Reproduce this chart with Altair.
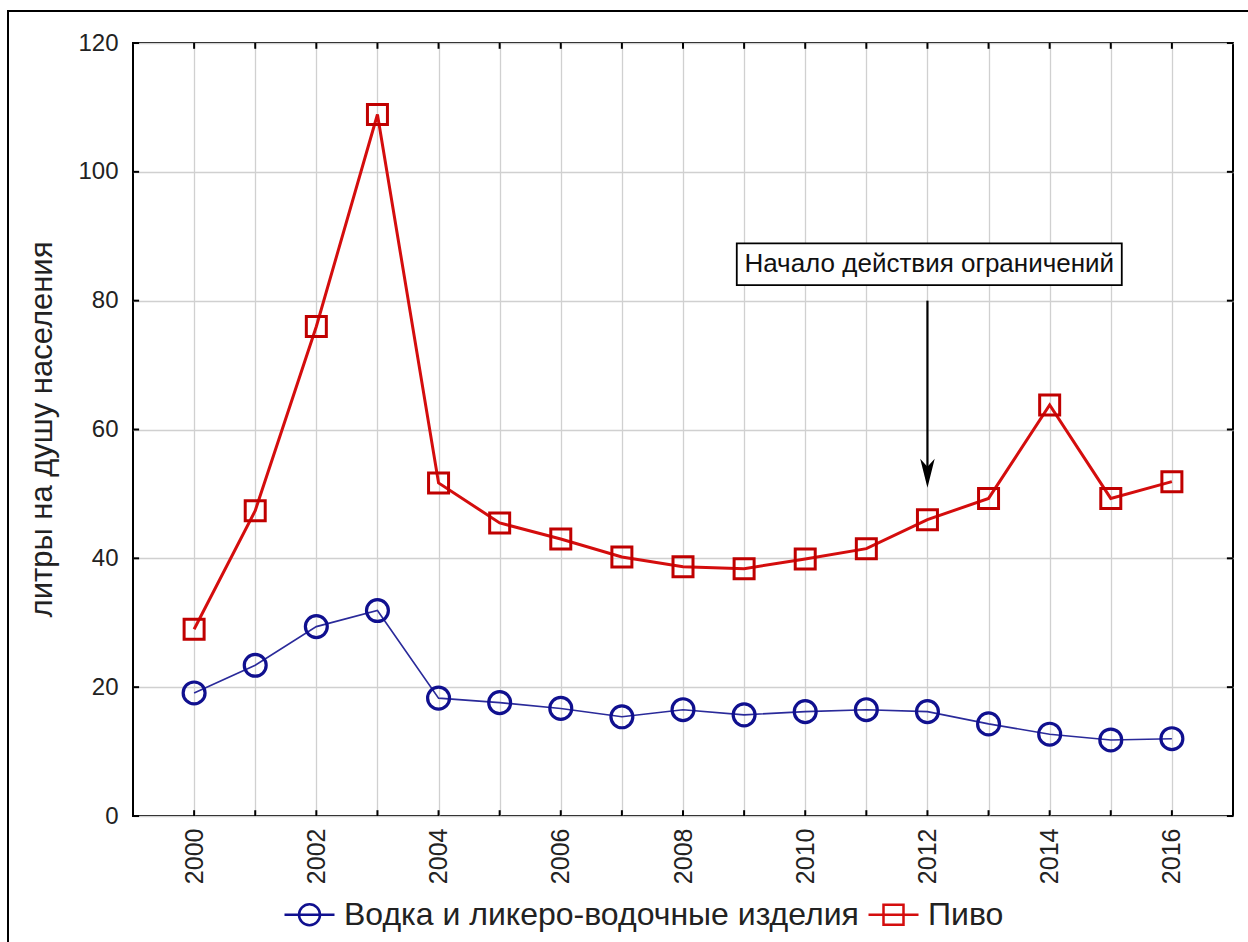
import altair as alt
import pandas as pd

# ---- data ----
years = list(range(2000, 2017))
vodka = [19.1, 23.4, 29.4, 31.9, 18.3, 17.6, 16.7, 15.4, 16.5, 15.7, 16.2, 16.5, 16.2, 14.3, 12.7, 11.8, 12.0]
beer = [29.0, 47.4, 76.0, 108.9, 51.7, 45.5, 43.0, 40.2, 38.7, 38.4, 39.9, 41.5, 46.0, 49.3, 63.8, 49.3, 51.9]
series_names = ["Водка и ликеро-водочные изделия", "Пиво"]
series_colors = ["#10108f", "#d40d0d"]
y_ticks = [0, 20, 40, 60, 80, 100, 120]

note_text = ["Начало действия ограничений"]
note_box_x = [2008.88]
note_box_x2 = [2015.18]
note_box_y = [88.9]
note_box_y2 = [82.4]
note_text_x = [2012.03]
note_text_y = [85.7]
arrow_x = [2012]
arrow_top = [80.0]
arrow_end = [54.0]
arrow_head_y = [53.2]

FONT = "Liberation Sans"
TXT = "#222222"

df = pd.DataFrame({
    "year": years * 2,
    "value": vodka + beer,
    "series": [series_names[0]] * len(years) + [series_names[1]] * len(years),
})

xscale = alt.Scale(domain=[1999, 2017], nice=False, zero=False)
yscale = alt.Scale(domain=[0, 120], nice=False, zero=True)

AX = alt.Axis(
    values=years, format="d",
    labelExpr="datum.value % 2 == 0 ? datum.label : ''",
    labelAngle=-90, labelFontSize=25, labelPadding=12, labelFont=FONT, labelColor=TXT,
    grid=True, gridColor="#d0d0d0", gridWidth=1.3, ticks=False, domain=False, title=None)
AY = alt.Axis(
    values=y_ticks, labelFontSize=24, labelPadding=15, labelFont=FONT, labelColor=TXT,
    grid=True, gridColor="#d0d0d0", gridWidth=1.3, ticks=False, domain=False,
    title="литры на душу населения", titleFontSize=31, titleFontWeight="normal",
    titleFont=FONT, titleColor=TXT, titleAngle=-90, titleX=-91, titleY=386,
    titleAlign="center", titleBaseline="middle")


def xq(field):
    return alt.X(field, type="quantitative", scale=xscale, axis=AX)


def yq(field):
    return alt.Y(field, type="quantitative", scale=yscale, axis=AY)


frame = alt.Chart(pd.DataFrame({"a": [0]})).mark_rect(
    fill=None, stroke="black", strokeWidth=2, clip=False
).encode(x=alt.value(-125), x2=alt.value(1140), y=alt.value(-32), y2=alt.value(920))

vod = df[df["series"] == series_names[0]]
bee = df[df["series"] == series_names[1]]

beer_line = alt.Chart(bee).mark_line(color=series_colors[1], strokeWidth=3).encode(
    x=xq("year"), y=yq("value"))
beer_pts = alt.Chart(bee).mark_point(shape="square", filled=False, color="#c00000",
                                     strokeWidth=3, size=400, opacity=1).encode(
    x=xq("year"), y=yq("value"))
vod_line = alt.Chart(vod).mark_line(color="#2a2a9a", strokeWidth=1.6).encode(
    x=xq("year"), y=yq("value"))
vod_pts = alt.Chart(vod).mark_point(shape="circle", filled=False, color=series_colors[0],
                                    strokeWidth=3.2, size=480, opacity=1).encode(
    x=xq("year"), y=yq("value"))

# inward ticks built from tick lists
bt = pd.DataFrame({"year": years, "v0": [0] * len(years), "v1": [0.9] * len(years)})
tt = pd.DataFrame({"year": years, "v0": [120] * len(years), "v1": [119.1] * len(years)})
lt = pd.DataFrame({"value": y_ticks, "x0": [1999] * 7, "x1": [1999.1] * 7})
rt = pd.DataFrame({"value": y_ticks, "x0": [2017] * 7, "x1": [2016.9] * 7})
tick_b = alt.Chart(bt).mark_rule(color="black", strokeWidth=2).encode(
    x=xq("year"), y=yq("v0"), y2="v1:Q")
tick_t = alt.Chart(tt).mark_rule(color="black", strokeWidth=2).encode(
    x=xq("year"), y=yq("v0"), y2="v1:Q")
tick_l = alt.Chart(lt).mark_rule(color="black", strokeWidth=2).encode(
    x=xq("x0"), x2="x1:Q", y=yq("value"))
tick_r = alt.Chart(rt).mark_rule(color="black", strokeWidth=2).encode(
    x=xq("x0"), x2="x1:Q", y=yq("value"))

# legend-only layer (marks clipped away)
leg_paths = [
    "M-1,0L1,0M-0.42,0A0.42,0.42,0,1,1,0.42,0A0.42,0.42,0,1,1,-0.42,0",
    "M-1,0L1,0M-0.4,-0.4L0.4,-0.4L0.4,0.4L-0.4,0.4Z",
]
LEG = alt.Legend(title=None, orient="none", legendX=150, legendY=845,
                 direction="horizontal", symbolSize=2500, symbolOpacity=1,
                 symbolStrokeWidth=2.5, labelFontSize=32, labelFont=FONT, labelLimit=0,
                 labelColor=TXT, columnPadding=4, labelOffset=8,
                 symbolFillColor="transparent")
legend_layer = alt.Chart(df).mark_point(filled=False, clip=True, strokeWidth=2.5, opacity=1).encode(
    x=alt.value(-3000), y=alt.value(-3000),
    color=alt.Color("series:N", scale=alt.Scale(domain=series_names, range=series_colors), legend=LEG),
    shape=alt.Shape("series:N", scale=alt.Scale(domain=series_names, range=leg_paths), legend=LEG),
)

note_df = pd.DataFrame({
    "text": note_text, "bx": note_box_x, "bx2": note_box_x2, "by": note_box_y, "by2": note_box_y2,
    "tx": note_text_x, "ty": note_text_y, "ax": arrow_x, "atop": arrow_top, "aend": arrow_end,
    "ahy": arrow_head_y,
})
note_box = alt.Chart(note_df).mark_rect(fill="white", stroke="black", strokeWidth=1.8).encode(
    x=xq("bx"), x2="bx2:Q", y=yq("by"), y2="by2:Q")
note_txt = alt.Chart(note_df).mark_text(fontSize=26, font=FONT, color="#111111",
                                        align="center", baseline="middle").encode(
    x=xq("tx"), y=yq("ty"), text="text:N")
arrow_line = alt.Chart(note_df).mark_rule(color="black", strokeWidth=2.2).encode(
    x=xq("ax"), y=yq("atop"), y2="aend:Q")
arrow_head = alt.Chart(note_df).mark_point(
    shape="M0,1L-0.5,-1L0,-0.45L0.5,-1Z", filled=True, color="black", size=841, opacity=1
).encode(x=xq("ax"), y=yq("ahy"))

chart = alt.layer(
    frame, tick_b, tick_t, tick_l, tick_r,
    vod_line, vod_pts, beer_line, beer_pts,
    arrow_line, arrow_head, note_box, note_txt, legend_layer,
).properties(
    width=1100, height=773,
    padding={"left": 133, "top": 43, "right": 15, "bottom": 126},
    autosize=alt.AutoSizeParams(type="none"),
    background="white",
).configure_view(stroke="black", strokeWidth=2)

chart.save("out.html", embed_options={"renderer": "svg", "actions": False})
